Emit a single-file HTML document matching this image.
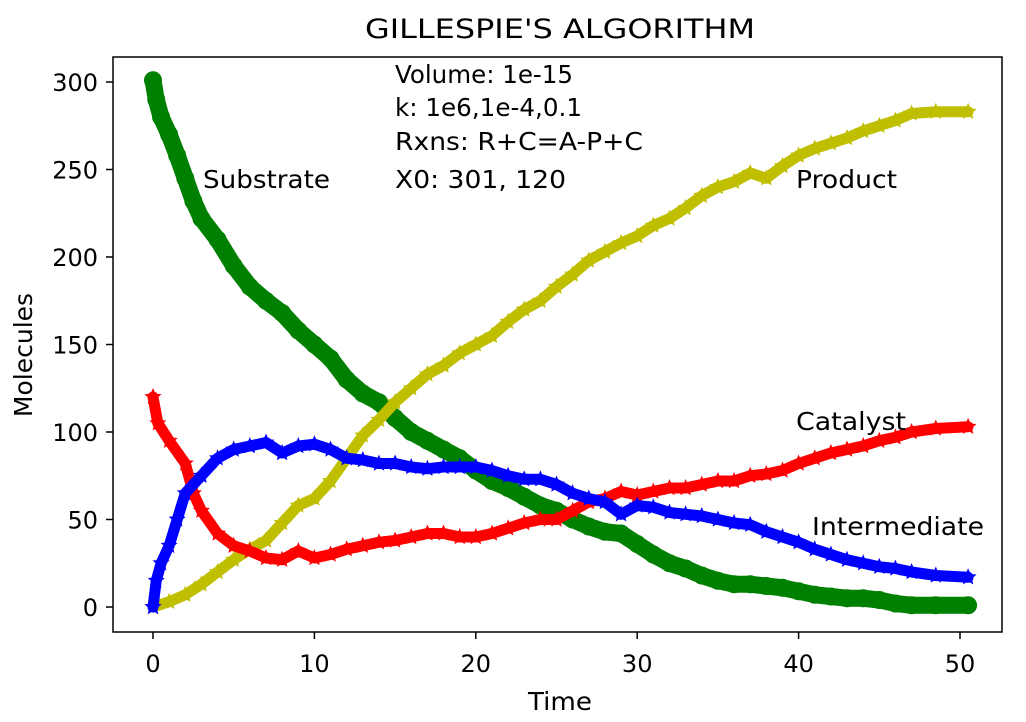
<!DOCTYPE html>
<html><head><meta charset="utf-8"><style>
body{margin:0;background:#fff}
svg text{font-family:"DejaVu Sans","Liberation Sans",sans-serif;fill:#000}
</style></head><body>
<svg id="chart" width="1026" height="717" viewBox="0 0 1026 717" xmlns="http://www.w3.org/2000/svg">
<rect width="1026" height="717" fill="#fff"/>
<text x="365" y="38" font-size="27" textLength="390" lengthAdjust="spacingAndGlyphs">GILLESPIE'S ALGORITHM</text>
<g id="series"></g>
<rect x="113" y="57" width="889" height="575" fill="none" stroke="#000" stroke-width="1.5"/>
<g id="axes"></g>
<text x="528" y="710" font-size="25" textLength="64" lengthAdjust="spacingAndGlyphs">Time</text>
<text x="0" y="0" font-size="25" text-anchor="middle" transform="translate(32,355) rotate(-90)">Molecules</text>
<g font-size="25">
<text x="395" y="83" textLength="178" lengthAdjust="spacingAndGlyphs">Volume: 1e-15</text>
<text x="395" y="116" textLength="187" lengthAdjust="spacingAndGlyphs">k: 1e6,1e-4,0.1</text>
<text x="395" y="150" textLength="248" lengthAdjust="spacingAndGlyphs">Rxns: R+C=A-P+C</text>
<text x="395" y="188" textLength="171" lengthAdjust="spacingAndGlyphs">X0: 301, 120</text>
</g>
<text x="203" y="188" font-size="25" textLength="127" lengthAdjust="spacingAndGlyphs">Substrate</text>
<text x="796" y="188" font-size="25" textLength="101" lengthAdjust="spacingAndGlyphs">Product</text>
<text x="796" y="430" font-size="25" textLength="110" lengthAdjust="spacingAndGlyphs">Catalyst</text>
<text x="812" y="535" font-size="25" textLength="172" lengthAdjust="spacingAndGlyphs">Intermediate</text>
</svg>
<script>
const xTicks=[0,10,20,30,40,50];
const yTicks=[0,50,100,150,200,250,300];
const substrateT=[0,0.2,0.5,1,1.5,2,2.5,3,4,5,6,7,8,9,10,11,12,13,14,15,16,17,18,19,20,21,22,23,24,25,26,27,28,29,30,31,32,33,34,35,36,37,38,39,40,41,42,43,44,45,46,47,48.5,50.5];
const substrateV=[301,290,280,270,258,245,232,222,210,195,183,175,168,158,150,142,130,122,117,108,100,95,90,85,78,72,68,63,58,55,50,46,43,42,36,30,25,22,18,15,13,13,12,11,9,7,6,5,5,4,2,1,1,1];
const stdT=[0,1,2,3,4,5,6,7,8,9,10,11,12,13,14,15,16,17,18,19,20,21,22,23,24,25,26,27,28,29,30,31,32,33,34,35,36,37,38,39,40,41,42,43,44,45,46,47,48.5,50.5];
const productV=[0,3,7,13,20,27,33,38,48,58,62,72,85,98,107,117,125,133,138,145,150,155,163,170,175,183,190,198,203,208,212,218,222,228,235,240,243,248,245,252,258,262,265,268,272,275,278,282,283,283];
const catalystT=[0,0.3,1,2,2.5,3,4,5,6,7,8,9,10,11,12,13,14,15,16,17,18,19,20,21,22,23,24,25,26,27,28,29,30,31,32,33,34,35,36,37,38,39,40,41,42,43,44,45,46,47,48.5,50.5];
const catalystV=[120,105,95,82,65,55,42,35,32,28,27,32,28,30,33,35,37,38,40,42,42,40,40,42,45,48,50,50,55,60,62,66,64,66,68,68,70,72,72,75,76,78,82,85,88,90,92,95,97,100,102,103];
const interT=[0,0.2,0.5,1,1.5,2,3,4,5,6,7,8,9,10,11,12,13,14,15,16,17,18,19,20,21,22,23,24,25,26,27,28,29,30,31,32,33,34,35,36,37,38,39,40,41,42,43,44,45,46,47,48.5,50.5];
const interV=[0,15,25,35,50,65,75,85,90,92,94,88,92,93,90,85,84,82,82,80,79,80,80,80,78,75,73,73,70,65,62,60,53,58,57,54,53,52,50,48,47,43,40,37,33,30,27,25,23,22,20,18,17];
const X=t=>153+t*16.14, Y=v=>607-v*1.75;
const NS="http://www.w3.org/2000/svg";
const ax=document.getElementById('axes'), sg=document.getElementById('series');
function mk(tag,attrs,parent){const e=document.createElementNS(NS,tag);for(const k in attrs)e.setAttribute(k,attrs[k]);parent.appendChild(e);return e;}
xTicks.forEach(t=>{
  const l=mk('line',{x1:X(t),x2:X(t),y1:632,y2:639,stroke:'#000','stroke-width':1.5},ax);
  
  
  const tx=mk('text',{x:X(t),y:672,'font-size':24,'text-anchor':'middle'},ax);tx.textContent=t;
  
  
});
yTicks.forEach(v=>{
  const l=mk('line',{x1:106,x2:113,y1:Y(v),y2:Y(v),stroke:'#000','stroke-width':1.5},ax);
  
  
  const tx=mk('text',{x:98,y:Y(v)+9,'font-size':24,'text-anchor':'end'},ax);tx.textContent=v;
  
  
});
function star(cx,cy,r){let p=[];for(let i=0;i<10;i++){const a=-Math.PI/2+i*Math.PI/5,rr=i%2?r*0.45:r;p.push((cx+rr*Math.cos(a)).toFixed(1)+','+(cy+rr*Math.sin(a)).toFixed(1));}return p.join(' ');}
function series(name,T,V,color,marker){
  const g=mk('g',{},sg);
  
  
  const pts=T.map((t,i)=>X(t)+','+Y(V[i])).join(' ');
  mk('polyline',{points:pts,fill:'none',stroke:color,'stroke-width':marker==='o'?17:11,'stroke-linejoin':'round','stroke-linecap':'round'},g);
  T.forEach((t,i)=>{
    let m;
    if(marker==='o') m=mk('circle',{cx:X(t),cy:Y(V[i]),r:9,fill:color},g);
    else m=mk('polygon',{points:star(X(t),Y(V[i]),9),fill:color},g);
    
    
  });
}
series('substrate',substrateT,substrateV,'#008000','o');
series('product',stdT,productV,'#bfbf00','*');
series('catalyst',catalystT,catalystV,'#ff0000','*');
series('intermediate',interT,interV,'#0000ff','*');
</script>
</body></html>
